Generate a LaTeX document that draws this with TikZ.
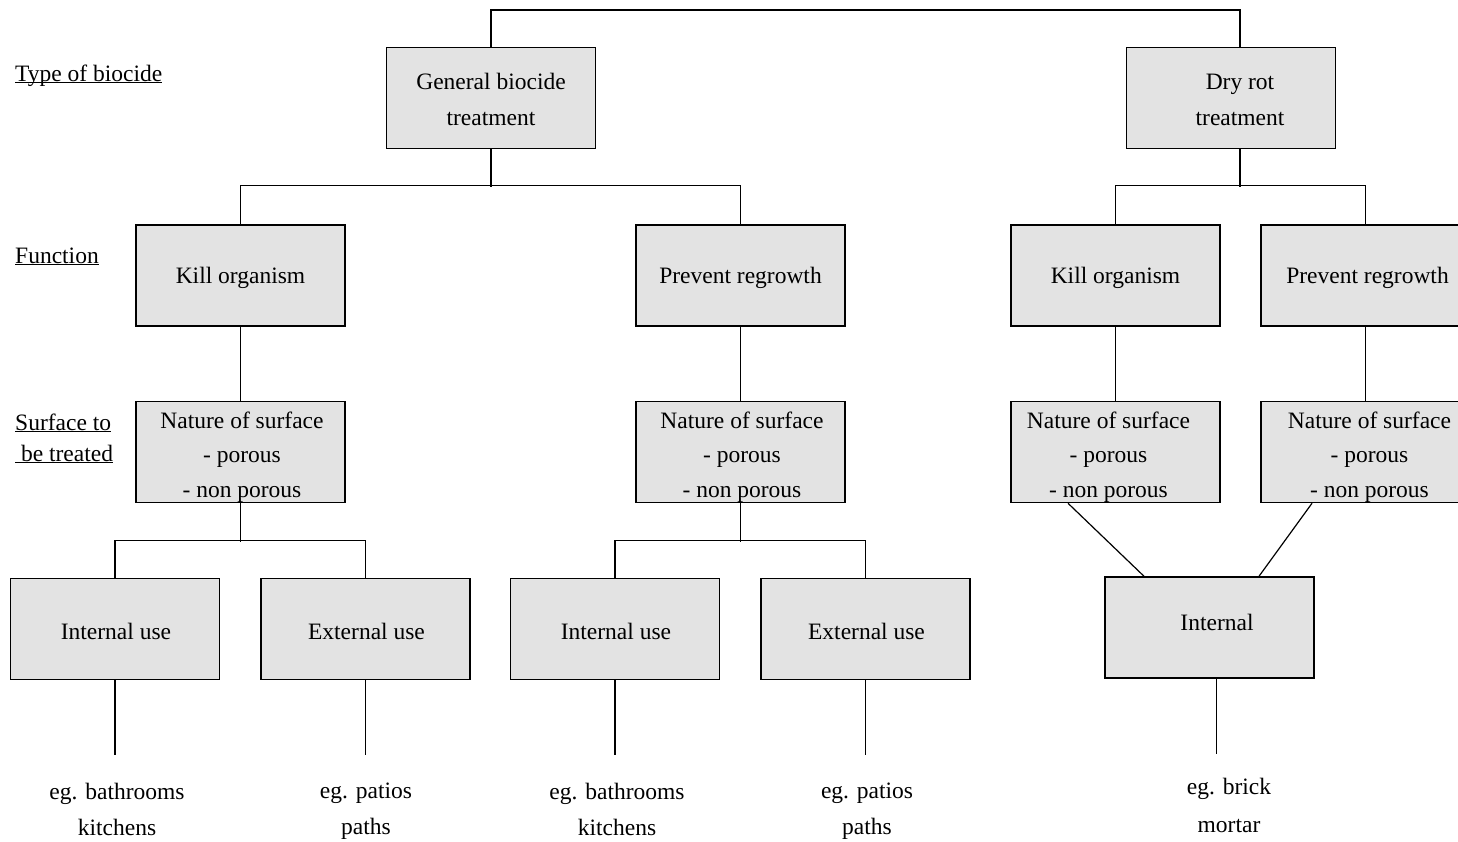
\documentclass[tikz,border=0pt]{standalone}
\usepackage{fontspec}
\setmainfont{Liberation Serif}
\usetikzlibrary{calc}
\definecolor{boxgray}{RGB}{227,227,227}
\tikzset{
  box/.style={draw=black, line width=1.5pt, fill=boxgray, minimum width=209pt,
    minimum height=101pt, inner sep=0pt},
  boxtext/.style={inner sep=0pt, align=center},
  % a box whose centred text is moved by (#1) from the box centre
  tbox/.style 2 args={box, label={[boxtext, shift={(#1)}]center:#2}},
  threeline/.style={font=\fontsize{23.5pt}{34.5pt}\selectfont},
  link/.style={line width=1.2pt, black},
  heading/.style={inner sep=0pt, anchor=base west},
  example/.style={inner sep=0pt, align=center}
}
\newcommand{\headline}[1]{\underline{\smash{#1}}}
\begin{document}
\begin{tikzpicture}[x=1pt, y=1pt, font=\fontsize{23.5pt}{36pt}\selectfont]
\useasboundingbox (0,0) rectangle (1458,-841);

% level headings
\node[heading] (hType) at (15,-81) {\headline{Type of biocide}};
\node[heading] (hFunc) at (15,-263) {\headline{Function}};
\node[heading] (hSurfA) at (15,-430) {\headline{Surface to}};
\node[heading] (hSurfB) at (15,-461) {\headline{\ be treated}};

% type of biocide
\node[tbox={0,-1.5}{General biocide\\treatment}] (gb) at (491,-98) {};
\node[tbox={9,-1.5}{Dry rot\\treatment}] (dr) at (1231,-98) {};
\coordinate (drtop) at (1240,-10);

% function
\node[tbox={0,-2.5}{Kill organism}] (ko1) at (240.5,-275.5) {};
\node[tbox={0,-2.5}{Prevent regrowth}] (pr1) at (740.5,-275.5) {};
\node[tbox={0,-2.5}{Kill organism}] (ko2) at (1115.5,-275.5) {};
\node[tbox={2,-2.5}{Prevent regrowth}] (pr2) at (1365.5,-275.5) {};

% surface to be treated
\tikzset{every label/.append style={threeline}}
\node[tbox={1.5,-5}{Nature of surface\\- porous\\- non porous}] (ns1) at (240.5,-452) {};
\node[tbox={1.5,-5}{Nature of surface\\- porous\\- non porous}] (ns2) at (740.5,-452) {};
\node[tbox={-7,-5}{Nature of surface\\- porous\\- non porous}] (ns3) at (1115.5,-452) {};
\node[tbox={4,-5}{Nature of surface\\- porous\\- non porous}] (ns4) at (1365.5,-452) {};
\tikzset{every label/.style={}}

% use
\node[tbox={1,-2.5}{Internal use}] (iu1) at (115,-629) {};
\node[tbox={1,-2.5}{External use}] (eu1) at (365.5,-629) {};
\node[tbox={1,-2.5}{Internal use}] (iu2) at (615,-629) {};
\node[tbox={1,-2.5}{External use}] (eu2) at (865.5,-629) {};
\node[tbox={7.5,5.5}{Internal}] (intr) at (1209.5,-627.5) {};

% examples
\node[example] (ex1) at (117,-809) {eg. bathrooms\\kitchens};
\node[example] (ex2) at (366,-811.5) {eg. patios\\paths};
\node[example] (ex3) at (617,-809) {eg. bathrooms\\kitchens};
\node[example] (ex4) at (867,-811.5) {eg. patios\\paths};
\node[example, font=\fontsize{23.5pt}{38pt}\selectfont] (ex5) at (1229,-805) {eg. brick\\mortar};

% connectors: top
\draw[link] (gb.north) |- (drtop) -- (drtop |- dr.north);

% connectors: type -> function
\draw[link] (gb.south) -- ++(0,-38);
\draw[link] (ko1.north) |- ($(pr1.north)+(0,39)$) -- (pr1.north);
\draw[link] (drtop |- dr.south) -- ++(0,-38);
\draw[link] (ko2.north) |- ($(pr2.north)+(0,39)$) -- (pr2.north);

% connectors: function -> surface
\draw[link] (ko1.south) -- (ns1.north);
\draw[link] (pr1.south) -- (ns2.north);
\draw[link] (ko2.south) -- (ns3.north);
\draw[link] (pr2.south) -- (ns4.north);

% connectors: surface -> use
\draw[link] (ns1.south) -- ++(0,-39);
\draw[link] (iu1.north) |- ($(eu1.north)+(0,37)$) -- (eu1.north);
\draw[link] (ns2.south) -- ++(0,-39);
\draw[link] (iu2.north) |- ($(eu2.north)+(0,37)$) -- (eu2.north);
\draw[link] ($(ns3.south)+(-47.5,0)$) -- ($(intr.north)+(-65.5,0)$);
\draw[link] ($(ns4.south)+(-53.5,0)$) -- ($(intr.north)+(49.5,0)$);

% connectors: use -> examples
\draw[link] (iu1.south) -- ++(0,-75);
\draw[link] (eu1.south) -- ++(0,-75);
\draw[link] (iu2.south) -- ++(0,-75);
\draw[link] (eu2.south) -- ++(0,-75);
\draw[link] ($(intr.south)+(7,0)$) -- ++(0,-75);
\end{tikzpicture}
\end{document}
